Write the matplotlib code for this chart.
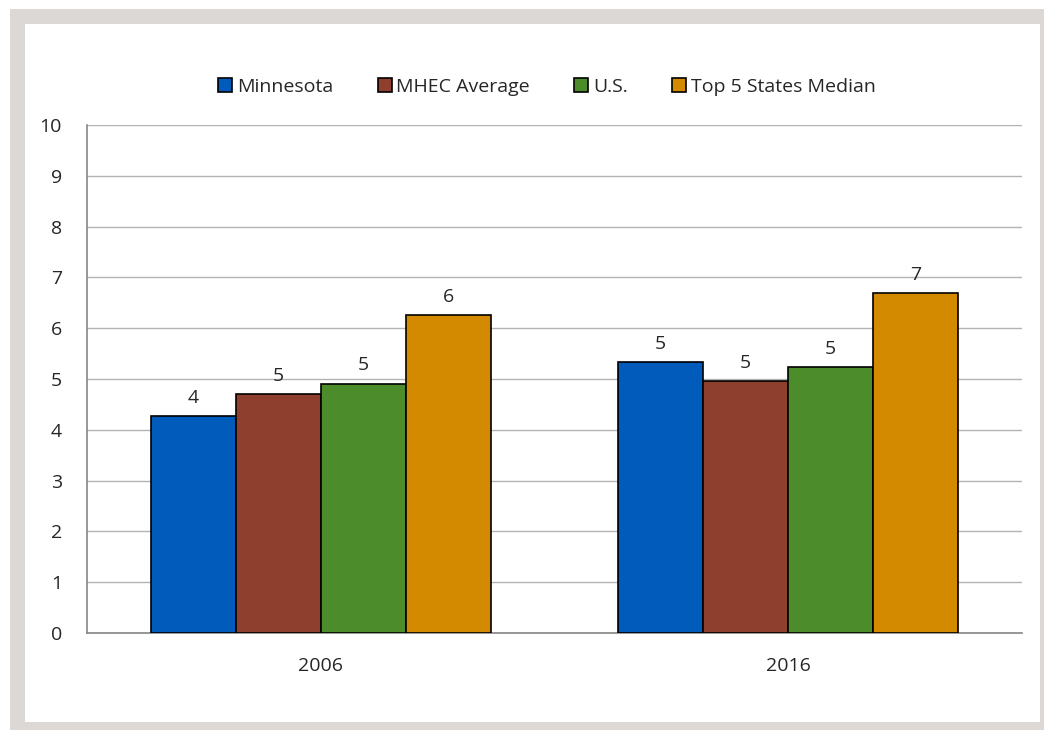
import numpy as np
import matplotlib.pyplot as plt
from matplotlib.patches import Rectangle

plt.rcParams['font.family'] = ['Open Sans', 'DejaVu Sans']

years = ["2006", "2016"]
series = ["Minnesota", "MHEC Average", "U.S.", "Top 5 States Median"]
values = {
    "Minnesota": [4.27, 5.33],
    "MHEC Average": [4.71, 4.96],
    "U.S.": [4.91, 5.24],
    "Top 5 States Median": [6.26, 6.69],
}
colors = ["#005BBB", "#8E3F2D", "#4C8C2B", "#D38A00"]

W, H = 1044, 730
fig = plt.figure(figsize=(W / 100, H / 100), dpi=100)
fig.patch.set_facecolor("white")
# grey frame + white panel
fig.patches.append(Rectangle((10 / W, 0), 1 - 10 / W, 1 - 9 / H, transform=fig.transFigure,
                             facecolor="#DCD8D5", edgecolor="none", zorder=-2))
fig.patches.append(Rectangle((25 / W, 8 / H), (1040 - 25) / W, (722 - 24) / H,
                             transform=fig.transFigure, facecolor="white",
                             edgecolor="none", zorder=-1))

ax = fig.add_axes([87 / W, 1 - 633 / H, (1022 - 87) / W, (633 - 125) / H])
ax.set_facecolor("none")

x = np.arange(len(years))
bw = 0.727 / len(series)
for i, (name, c) in enumerate(zip(series, colors)):
    pos = x + (i - 1.5) * bw
    bars = ax.bar(pos, values[name], bw, color=c, edgecolor="black",
                  linewidth=1.2, label=name, zorder=3)
    for b, v in zip(bars, values[name]):
        ax.text(b.get_x() + b.get_width() / 2, v + 0.18, "%d" % round(v),
                ha="center", va="bottom", fontsize=14, color="#262626")

ax.set_xlim(-0.5, 1.5)
ax.set_ylim(0, 10)
ax.set_yticks(range(0, 11))
ax.set_xticks(x)
ax.set_xticklabels(years)
ax.yaxis.grid(True, color="#B3B3B3", linewidth=1, zorder=0)
ax.tick_params(axis="both", length=0, labelsize=14, colors="#262626")
ax.tick_params(axis="y", pad=18)
ax.tick_params(axis="x", pad=17)
for s in ["top", "right"]:
    ax.spines[s].set_visible(False)
ax.spines["left"].set_color("#868686")
ax.spines["bottom"].set_color("#868686")
ax.spines["left"].set_linewidth(1.2)
ax.spines["bottom"].set_linewidth(1.2)

ax.legend(loc="center", bbox_to_anchor=(0.492, 1 + (125 - 87) / 508), ncol=4,
          frameon=False, fontsize=14, handlelength=0.72, handleheight=0.72,
          handletextpad=0.25, columnspacing=2.27, labelcolor="#262626")

fig.savefig("out.png", dpi=100)
